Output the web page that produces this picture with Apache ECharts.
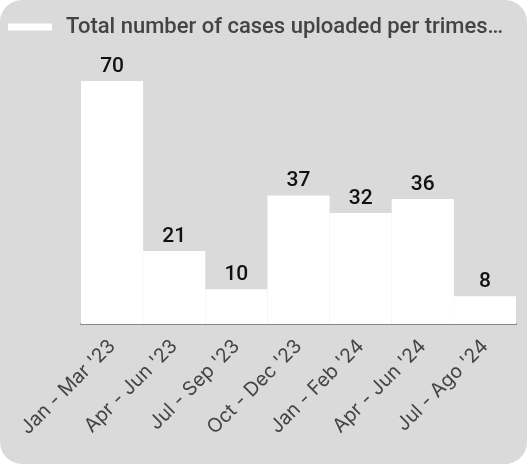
<!DOCTYPE html>
<html><head><meta charset="utf-8">
<script src="https://cdn.jsdelivr.net/npm/echarts@6/dist/echarts.min.js"></script>
<style>
html,body{margin:0;padding:0;background:#fff;}
#c{width:527px;height:464px;background:#dadada;border-radius:22px;overflow:hidden;}
</style></head><body>
<div id="c"></div>
<script>
const categories = ["Jan - Mar '23","Apr - Jun '23","Jul - Sep '23","Oct - Dec '23","Jan - Feb '24","Apr - Jun '24","Jul - Ago '24"];
const seriesName = "Total number of cases uploaded per trimester";
const values = [70, 21, 10, 37, 32, 36, 8];

const chart = echarts.init(document.getElementById('c'), null, {renderer:'canvas'});
chart.setOption({
  backgroundColor: 'transparent',
  animation: false,
  legend: {
    left: 3, top: 11,
    icon: 'rect', itemWidth: 44, itemHeight: 7,
    textStyle: {
      fontFamily: 'Roboto', fontSize: 22, fontWeight: 500, color: '#444',
      width: 439, overflow: 'truncate', ellipsis: '…',
      padding: [0, 0, 0, 9]
    },
    data: [{name: seriesName, itemStyle: {color: '#fff'}}]
  },
  grid: {left: 81, right: 11, top: 81, bottom: 140, containLabel: false},
  xAxis: {
    type: 'category', data: categories,
    axisLine: {show: true, lineStyle: {color: '#888', width: 2}},
    axisTick: {show: false},
    axisLabel: {rotate: 45, interval: 0, margin: 19, fontFamily: 'Inter', fontSize: 19.5, color: '#444'}
  },
  yAxis: {type: 'value', min: 0, max: 70, show: false, splitLine: {show: false}},
  series: [{
    name: seriesName, type: 'bar', data: values,
    barCategoryGap: 0, barGap: 0,
    itemStyle: {color: '#fff'},
    label: {show: true, position: 'top', distance: 4, fontFamily: 'Roboto', fontWeight: 500, fontSize: 21, color: '#111'}
  }]
});
</script>
</body></html>
